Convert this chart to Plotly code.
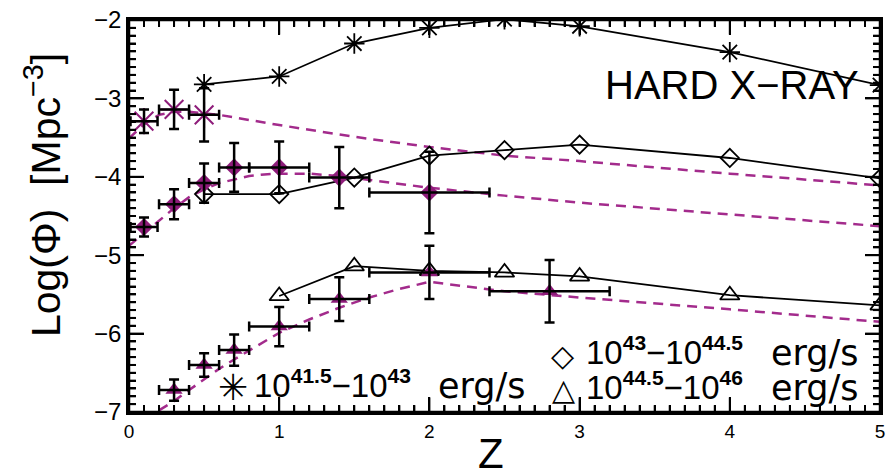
import plotly.graph_objects as go
from plotly.subplots import make_subplots

# ---- redshift grid and space densities (log Phi, Mpc^-3) ----
# model points (black, solid): three luminosity bins
z_model = [0.5, 1.0, 1.5, 2.0, 2.5, 3.0, 4.0, 5.0]
phi_low = [-2.82, -2.72, -2.30, -2.10, -1.99, -2.08, -2.41, -2.83]
phi_mid = [-4.22, -4.22, -4.01, -3.73, -3.66, -3.59, -3.76, -4.02]
z_high_model = [1.0, 1.5, 2.0, 2.5, 3.0, 4.0, 5.0]
phi_high = [-5.52, -5.14, -5.20, -5.22, -5.27, -5.51, -5.64]

# observed hard X-ray densities with errors (magenta)
z_obs_low = [0.1, 0.3, 0.5]
phi_obs_low = [-3.29, -3.14, -3.21]
zerr_obs_low = [0.09, 0.1, 0.1]
phierr_obs_low = [0.15, 0.25, 0.34]

z_obs_mid = [0.1, 0.3, 0.5, 0.7, 1.0, 1.4, 2.0]
phi_obs_mid = [-4.64, -4.35, -4.08, -3.88, -3.88, -4.01, -4.20]
zerr_obs_mid = [0.09, 0.1, 0.1, 0.1, 0.2, 0.2, 0.4]
phierr_obs_mid = [0.12, 0.19, 0.25, 0.31, 0.33, 0.39, 0.52]

z_obs_high = [0.3, 0.5, 0.7, 1.0, 1.4, 2.0, 2.8]
phi_obs_high = [-6.72, -6.40, -6.21, -5.91, -5.56, -5.22, -5.46]
zerr_obs_high = [0.1, 0.1, 0.1, 0.2, 0.2, 0.4, 0.4]
phierr_obs_high = [0.135, 0.15, 0.20, 0.25, 0.28, 0.34, 0.40]

# fitted curves (magenta, dashed)
z_fit_low = [0.0, 0.1, 0.2, 0.3, 0.4, 0.5, 0.6, 1.0, 1.5, 2.0, 2.5, 3.0, 4.0, 5.0]
phi_fit_low = [-3.51, -3.33, -3.21, -3.17, -3.17, -3.19, -3.21, -3.34, -3.49,
               -3.62, -3.73, -3.80, -3.96, -4.11]
z_fit_mid = [0.0, 0.1, 0.2, 0.3, 0.4, 0.5, 0.6, 0.8, 0.9, 1.0, 1.2, 1.4, 1.6,
             2.0, 2.5, 3.0, 4.0, 5.0]
phi_fit_mid = [-4.88, -4.72, -4.56, -4.40, -4.26, -4.16, -4.08, -3.99, -3.97,
               -3.96, -3.96, -3.99, -4.04, -4.14, -4.24, -4.33, -4.48, -4.63]
z_fit_high = [0.2, 0.3, 0.4, 0.5, 0.6, 0.7, 0.8, 1.0, 1.2, 1.4, 1.6, 1.8, 2.0,
              2.5, 3.0, 4.0, 5.0]
phi_fit_high = [-6.98, -6.86, -6.72, -6.58, -6.45, -6.33, -6.22, -5.99, -5.82,
                -5.67, -5.54, -5.43, -5.34, -5.46, -5.54, -5.69, -5.85]

Z_RANGE = [0, 5]
PHI_RANGE = [-7, -2]

MAG = "#8E1C7A"
MAG_LINE = "#A32B8C"
FONT = "Liberation Sans"

fig = make_subplots(rows=1, cols=1)

# dashed fits
for zz, pp in [(z_fit_low, phi_fit_low), (z_fit_mid, phi_fit_mid),
               (z_fit_high, phi_fit_high)]:
    fig.add_trace(go.Scatter(x=zz, y=pp, mode="lines",
                             line=dict(color=MAG_LINE, width=2.5, dash="10px,7px"),
                             hoverinfo="skip"), row=1, col=1)

# solid model lines with open symbols
fig.add_trace(go.Scatter(x=z_model, y=phi_low, mode="lines+markers",
                         line=dict(color="black", width=1.8),
                         marker=dict(symbol="asterisk-open", size=17,
                                     line=dict(color="black", width=1.8))), row=1, col=1)
fig.add_trace(go.Scatter(x=z_model, y=phi_mid, mode="lines+markers",
                         line=dict(color="black", width=1.8),
                         marker=dict(symbol="diamond-open", size=14, color="black",
                                     line=dict(color="black", width=1.8))), row=1, col=1)
fig.add_trace(go.Scatter(x=z_high_model, y=phi_high, mode="lines+markers",
                         line=dict(color="black", width=1.8),
                         marker=dict(symbol="triangle-up-open", size=17, color="black",
                                     line=dict(color="black", width=1.8))), row=1, col=1)

# observed points: magenta symbols, then black error bars drawn over them
obs = [
    (z_obs_low, phi_obs_low, zerr_obs_low, phierr_obs_low,
     dict(symbol="asterisk-open", size=22, color=MAG, line=dict(color=MAG, width=2))),
    (z_obs_mid, phi_obs_mid, zerr_obs_mid, phierr_obs_mid,
     dict(symbol="diamond", size=14, color=MAG, line=dict(width=0))),
    (z_obs_high, phi_obs_high, zerr_obs_high, phierr_obs_high,
     dict(symbol="triangle-up", size=15, color=MAG, line=dict(width=0))),
]
for zz, pp, ez, ep, mk in obs:
    fig.add_trace(go.Scatter(x=zz, y=pp, mode="markers", marker=mk), row=1, col=1)
    fig.add_trace(go.Scatter(
        x=zz, y=pp, mode="markers",
        marker=dict(size=2, color="rgba(0,0,0,0)"),
        error_x=dict(type="data", array=ez, color="black", thickness=2.5, width=5),
        error_y=dict(type="data", array=ep, color="black", thickness=2.5, width=5)),
        row=1, col=1)

axis_common = dict(
    showline=True, linecolor="black", linewidth=2.5, mirror="ticks",
    ticks="inside", ticklen=15, tickwidth=2, tickcolor="black",
    showgrid=False, zeroline=False, layer="above traces",
    minor=dict(ticks="inside", ticklen=7, dtick=0.1, tickwidth=2, tickcolor="black"),
)
fig.update_xaxes(row=1, col=1, range=Z_RANGE, dtick=1, tick0=0,
                 tickfont=dict(family=FONT, size=19, color="black"),
                 **axis_common)
fig.update_yaxes(row=1, col=1, range=PHI_RANGE, dtick=1, tick0=-7,
                 ticklabeloverflow="allow",
                 tickfont=dict(family=FONT, size=24, color="black"),
                 **axis_common)

# plot frame and inward tick marks on all four sides (0.1 minor, 1.0 major),
# placed through the axis scales
PLOT_W, PLOT_H = 756, 402
shapes = [dict(type="rect", xref="paper", yref="paper", x0=0, x1=1, y0=0, y1=1,
               line=dict(color="black", width=2.5), fillcolor="rgba(0,0,0,0)",
               layer="above")]
for i in range(0, 51):
    z = Z_RANGE[0] + i / 10
    ln = (15 if i % 10 == 0 else 7) / PLOT_H
    for y0, y1 in [(0, ln), (1, 1 - ln)]:
        shapes.append(dict(type="line", xref="x", yref="paper", x0=z, x1=z, y0=y0, y1=y1,
                           line=dict(color="black", width=2), layer="above"))
for j in range(0, 51):
    p = PHI_RANGE[0] + j / 10
    ln = (15 if j % 10 == 0 else 7) / PLOT_W
    for x0, x1 in [(0, ln), (1, 1 - ln)]:
        shapes.append(dict(type="line", xref="paper", yref="y", x0=x0, x1=x1, y0=p, y1=p,
                           line=dict(color="black", width=2), layer="above"))


def px_x(p):
    return (p - 129) / 756


def px_y(p):
    return (412 - p) / 402


ann = []
ann.append(dict(text="HARD X\u2212RAY", x=px_x(866), y=px_y(77), xanchor="right",
                yanchor="middle", font=dict(family=FONT, size=40, color="black")))
ann.append(dict(text="Log(\u03a6)\u00a0\u00a0[Mpc<sup>\u22123</sup>]", x=px_x(42), y=px_y(190),
                textangle=-90, xanchor="center", yanchor="middle",
                font=dict(family=FONT, size=41, color="black")))
ann.append(dict(text="Z", x=px_x(493.5), y=px_y(455), xanchor="center", yanchor="middle",
                font=dict(family=FONT, size=42, color="black")))


def power_range(a, b):
    sup = '<sup><span style="font-size:21px;font-weight:bold">{}</span></sup>'
    return "10" + sup.format(a) + "\u221210" + sup.format(b)


# key entries: symbol, luminosity range, unit
num_font = dict(family=FONT, size=33, color="black")
unit_font = dict(family="DejaVu Sans", size=35, color="black")
key = [
    ("\u2733", 233.5, 387, 36, "41.5", "43", 253, 383, 438),
    ("\u25c7", 565.5, 354, 30, "43", "44.5", 587, 349, 773),
    ("\u25b3", 566.5, 389, 30, "44.5", "46", 587, 385, 773),
]
for sym, sx, sy, ssize, lo, hi, tx, ty, ux in key:
    ann.append(dict(text=sym, x=px_x(sx), y=px_y(sy), xanchor="center", yanchor="middle",
                    font=dict(family="DejaVu Sans", size=ssize, color="black")))
    ann.append(dict(text=power_range(lo, hi), x=px_x(tx), y=px_y(ty),
                    xanchor="left", yanchor="middle", font=num_font))
    ann.append(dict(text="erg/s", x=px_x(ux), y=px_y(ty + 2), xanchor="left",
                    yanchor="middle", font=unit_font))

for a in ann:
    a.update(xref="paper", yref="paper", showarrow=False)

fig.update_layout(
    width=891, height=476,
    margin=dict(l=129, r=6, t=10, b=64),
    paper_bgcolor="white", plot_bgcolor="white",
    showlegend=False,
    annotations=ann,
    shapes=shapes,
    font=dict(family=FONT, color="black"),
)

fig.write_html("out.html")
